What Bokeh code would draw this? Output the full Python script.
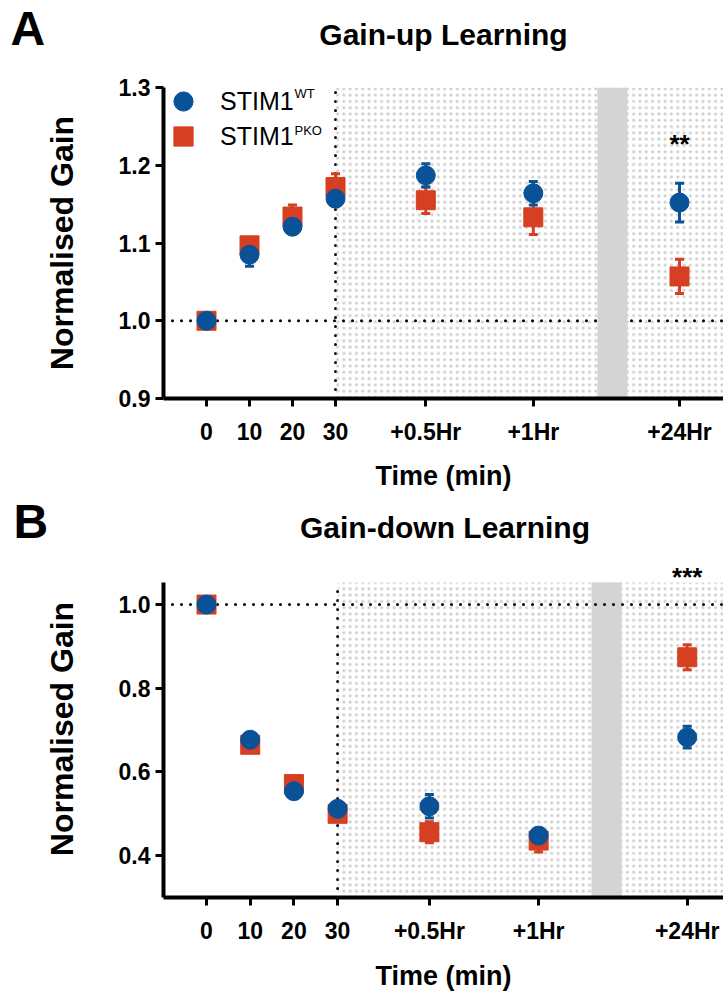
from bokeh.plotting import figure
from bokeh.models import (ColumnDataSource, Whisker, TeeHead, Span, BoxAnnotation, Label,
                          Legend, LegendItem, FixedTicker, NumeralTickFormatter, Range1d)
from bokeh.layouts import column
from bokeh.embed import file_html
from bokeh.resources import INLINE

# ---------------- data ----------------
time_labels = ["0", "10", "20", "30", "+0.5Hr", "+1Hr", "+24Hr"]
time_pos = [0, 10, 20, 30, 51, 76, 110]

up_wt = [1.000, 1.085, 1.121, 1.157, 1.187, 1.164, 1.152]
up_wt_err = [0.004, 0.015, 0.006, 0.006, 0.015, 0.015, 0.025]
up_pko = [1.000, 1.097, 1.134, 1.172, 1.155, 1.133, 1.057]
up_pko_err = [0.004, 0.008, 0.015, 0.017, 0.017, 0.022, 0.022]

down_wt = [1.000, 0.677, 0.554, 0.512, 0.518, 0.448, 0.683]
down_wt_err = [0.005, 0.012, 0.010, 0.010, 0.028, 0.015, 0.026]
down_pko = [1.000, 0.665, 0.571, 0.500, 0.456, 0.436, 0.874]
down_pko_err = [0.005, 0.010, 0.010, 0.012, 0.025, 0.027, 0.030]

series_names = ["STIM1", "STIM1"]
series_sups = ["WT", "PKO"]

BLUE = "#0a5297"
RED = "#d63f22"
FONT = "Liberation Sans"
W = 723


def header(h, y0, items):
    hp = figure(width=W, height=h, x_range=Range1d(0, W), y_range=Range1d(y0 + h, y0),
                output_backend="svg", toolbar_location=None, min_border=0,
                min_border_left=0, min_border_right=0, min_border_top=0, min_border_bottom=0,
                x_axis_location=None, y_axis_location=None)
    hp.frame_align = False
    hp.outline_line_color = None
    hp.grid.visible = False
    for (x, y, txt, size, align) in items:
        hp.add_layout(Label(x=x, y=y, text=txt, text_font=FONT, text_font_style="bold",
                            text_font_size=size, text_color="black",
                            text_baseline="alphabetic", text_align=align))
    return hp


def make_panel(height, b_top, b_bottom, xr, yr, ybounds, yticks, wt, wt_err, pko, pko_err,
               band, tick_standoff, label_standoff, band_over_line):
    p = figure(width=W, height=height, x_range=Range1d(*xr), y_range=Range1d(*yr),
               output_backend="svg", toolbar_location=None,
               min_border_left=163, min_border_right=0,
               min_border_top=b_top, min_border_bottom=b_bottom)
    p.outline_line_color = None
    p.xgrid.visible = False
    p.ygrid.visible = False

    stip = BoxAnnotation(left=time_pos[3], top=ybounds[1], fill_alpha=0, line_alpha=0,
                         level="underlay", hatch_pattern="dot", hatch_scale=6.3,
                         hatch_weight=1, hatch_color="#a8a8a8", hatch_alpha=0.55)
    p.add_layout(stip)
    bandbox = BoxAnnotation(left=band[0], right=band[1], top=ybounds[1], fill_color="#d4d4d4",
                            fill_alpha=1, line_alpha=0, level="underlay")
    hline = Span(location=1.0, dimension="width", line_color="black", line_width=3,
                 line_dash="0 9", line_cap="round", level="underlay")
    if band_over_line:
        p.add_layout(hline)
        p.add_layout(bandbox)
    else:
        p.add_layout(bandbox)
        p.add_layout(hline)
    # end of training (30 min) marker line, limited to the axis extent
    p.segment(x0=[time_pos[3]], y0=[ybounds[0]], x1=[time_pos[3]], y1=[ybounds[1]],
              line_color="black", line_width=3, line_dash="0 9", line_cap="round",
              level="underlay")

    for vals, errs, col in ((pko, pko_err, RED), (wt, wt_err, BLUE)):
        src = ColumnDataSource(dict(x=time_pos,
                                    upper=[v + e for v, e in zip(vals, errs)],
                                    lower=[v - e for v, e in zip(vals, errs)]))
        p.add_layout(Whisker(source=src, base="x", upper="upper", lower="lower",
                             dimension="height", line_color=col, line_width=3,
                             upper_head=TeeHead(size=9, line_color=col, line_width=3),
                             lower_head=TeeHead(size=9, line_color=col, line_width=3)))

    r_pko = p.scatter(time_pos, pko, marker="square", size=19, fill_color=RED, line_color=RED)
    r_wt = p.scatter(time_pos, wt, marker="circle", size=19, fill_color=BLUE, line_color=BLUE)

    for ax in (p.xaxis[0], p.yaxis[0]):
        ax.axis_line_width = 4
        ax.axis_line_color = "black"
        ax.major_tick_line_width = 3
        ax.major_tick_line_color = "black"
        ax.major_tick_out = 8
        ax.major_tick_in = 0
        ax.minor_tick_line_color = None
        ax.major_label_text_font = FONT
        ax.major_label_text_font_style = "bold"
        ax.major_label_text_font_size = "23px"
        ax.major_label_text_color = "black"
        ax.axis_label_text_font = FONT
        ax.axis_label_text_font_style = "bold"
        ax.axis_label_text_color = "black"
    p.xaxis.ticker = FixedTicker(ticks=time_pos)
    p.xaxis.major_label_overrides = {t: l for t, l in zip(time_pos, time_labels)}
    p.xaxis.axis_label = "Time (min)"
    p.xaxis.axis_label_text_font_size = "27px"
    p.xaxis.major_label_standoff = tick_standoff
    p.xaxis.axis_label_standoff = label_standoff
    p.yaxis.ticker = FixedTicker(ticks=yticks)
    p.yaxis.bounds = ybounds
    p.yaxis.formatter = NumeralTickFormatter(format="0.0")
    p.yaxis.axis_label = "Normalised Gain"
    p.yaxis.axis_label_text_font_size = "32px"
    p.yaxis.major_label_standoff = 5
    p.yaxis.axis_label_standoff = 36
    return p, r_wt, r_pko


# ---- panel A ----
h1 = header(60, 0, [(10, 27.7, "A", "48px", "left"),
                    (443, 34, "Gain-up Learning", "30px", "center")])
p1, wt1, pko1 = make_panel(434, 27, 96, (-10, 120.23), (0.9, 1.3), (0.9, 1.3),
                           [0.9, 1.0, 1.1, 1.2, 1.3], up_wt, up_wt_err, up_pko, up_pko_err,
                           (90.9, 97.9), 12, 13, True)
p1.add_layout(Label(x=time_pos[-1], y=1.2272, text="**", text_font=FONT,
                    text_font_style="bold", text_font_size="26px", text_color="black",
                    text_baseline="alphabetic", text_align="center"))
for r, loc, name, sup, sup_y in ((wt1, (-4, 273), series_names[0], series_sups[0], 1.2922),
                                 (pko1, (-4, 238), series_names[1], series_sups[1], 1.2443)):
    lg = Legend(items=[LegendItem(label=name, renderers=[r])], location=loc,
                border_line_color=None, background_fill_alpha=0, label_text_font=FONT,
                label_text_font_size="25px", label_text_color="black",
                glyph_width=48, glyph_height=48, label_standoff=13, spacing=0,
                padding=0, margin=0, label_height=20)
    p1.add_layout(lg)
    p1.add_layout(Label(x=20.47, y=sup_y, text=sup, text_font=FONT, text_font_size="13px",
                        text_color="black", text_baseline="alphabetic"))

# ---- panel B ----
h2 = header(66, 494, [(13, 520.7, "B", "48px", "left"),
                      (444.5, 527, "Gain-down Learning", "30px", "center")])
p2, wt2, pko2 = make_panel(434, 0, 97, (-9.84, 118.3), (0.3, 1.1053), (0.3, 1.0526),
                           [0.4, 0.6, 0.8, 1.0], down_wt, down_wt_err, down_pko, down_pko_err,
                           (88.1, 95.0), 12, 14, False)
p2.add_layout(Label(x=time_pos[-1], y=1.067, text="***", text_font=FONT,
                    text_font_style="bold", text_font_size="26px", text_color="black",
                    text_baseline="alphabetic", text_align="center"))

layout = column(h1, p1, h2, p2, spacing=0)
open("out.html", "w").write(file_html(layout, INLINE))
